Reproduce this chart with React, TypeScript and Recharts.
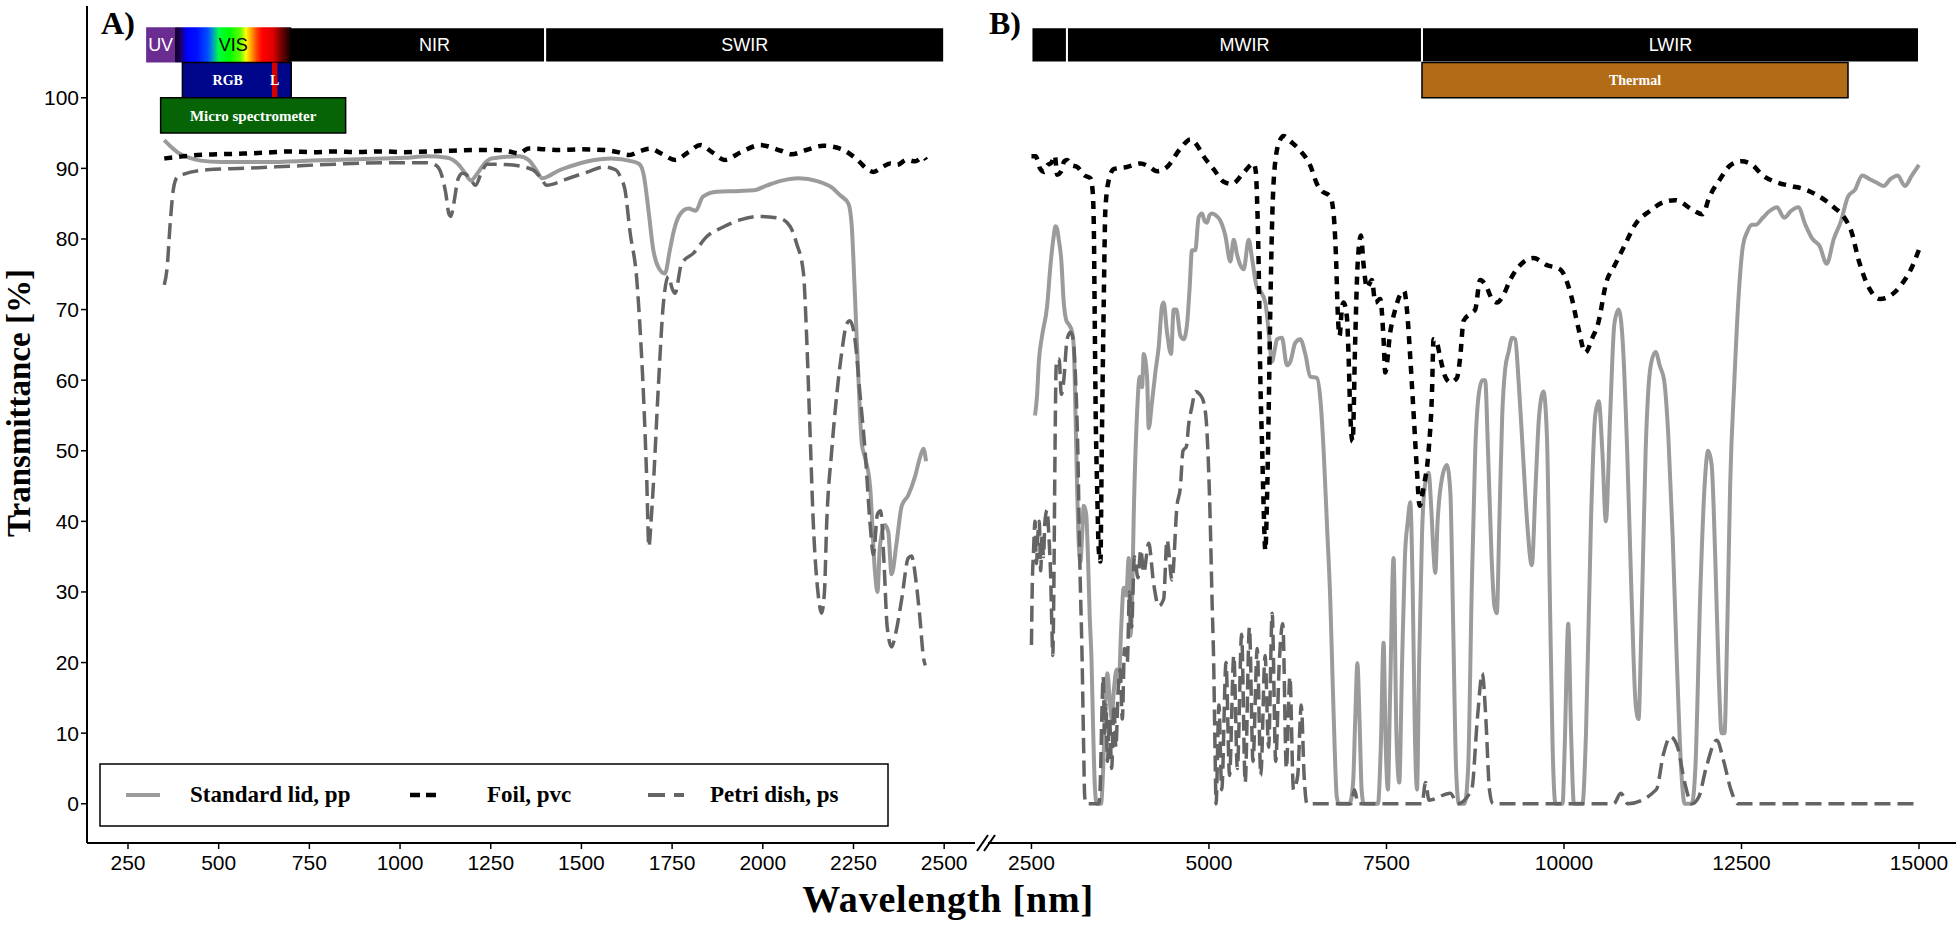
import React from 'react';
import { LineChart, Line, XAxis, YAxis, ReferenceArea } from 'recharts';

const SANS = "'Liberation Sans', Arial, sans-serif";
const SERIF = "'Liberation Serif', 'Times New Roman', serif";

const LID = '#9b9b9b';
const FOIL = '#000000';
const PETRI = '#646464';

// tick labels
const ticksA = [250, 500, 750, 1000, 1250, 1500, 1750, 2000, 2250, 2500];
const ticksB = [2500, 5000, 7500, 10000, 12500, 15000];
const ticksY = [0, 10, 20, 30, 40, 50, 60, 70, 80, 90, 100];

// panel A  (wavelength nm, transmittance %)
const lidA: [number, number][] = [
  [350, 94.0], [370, 93.0], [392, 92.1], [420, 91.5], [450, 91.1], [506, 90.9], [632, 90.9], [759, 91.1],
  [885, 91.3], [1012, 91.5], [1075, 91.7], [1130, 91.5], [1160, 90.6], [1180, 89.3], [1195, 88.3],
  [1212, 89.2], [1235, 90.8], [1252, 91.4], [1328, 91.7], [1354, 91.2], [1375, 89.8], [1392, 88.6],
  [1410, 88.9], [1430, 89.5], [1470, 90.3], [1518, 91.0], [1582, 91.4], [1640, 91.0], [1660, 90.6],
  [1672, 89.0], [1685, 84.0], [1698, 78.5], [1712, 76.0], [1730, 75.1], [1744, 78.5], [1754, 81.0],
  [1772, 83.5], [1795, 84.3], [1815, 84.0], [1835, 86.0], [1873, 86.7], [1937, 86.8], [1975, 86.9],
  [2012, 87.6], [2047, 88.2], [2100, 88.6], [2150, 88.2], [2190, 87.3], [2213, 86.2], [2236, 85.0],
  [2245, 82.0], [2254, 72.0], [2263, 61], [2273, 51], [2282, 49], [2296, 44.8], [2309, 33], [2316, 30],
  [2323, 36.5], [2337, 39.5], [2346, 38.5], [2355, 32.5], [2369, 37], [2383, 42.2], [2401, 43.7],
  [2420, 46.4], [2433, 49], [2443, 50.3], [2450, 48.5],
];

const foilA: [number, number][] = [
  [350, 91.4], [400, 91.7], [442, 91.9], [500, 92.0], [569, 92.1], [620, 92.2], [695, 92.4], [760, 92.3],
  [822, 92.4], [880, 92.3], [949, 92.4], [1010, 92.3], [1075, 92.4], [1140, 92.5], [1202, 92.6],
  [1265, 92.6], [1300, 92.4], [1328, 92.1], [1354, 92.8], [1400, 92.7], [1430, 92.6], [1500, 92.7],
  [1562, 92.6], [1600, 92.3], [1632, 91.9], [1660, 92.4], [1689, 92.8], [1720, 92.1], [1759, 91.2],
  [1795, 92.3], [1828, 93.3], [1860, 92.3], [1895, 91.2], [1940, 92.3], [1993, 93.3], [2050, 92.5],
  [2080, 92.0], [2120, 92.6], [2167, 93.2], [2213, 92.8], [2259, 91.3], [2290, 89.8], [2305, 89.5],
  [2330, 90.2], [2351, 90.7], [2370, 90.5], [2397, 91.2], [2420, 91.0], [2443, 91.6], [2450, 91.2],
];

const petriA: [number, number][] = [
  [350, 73.5], [358, 76], [366, 82], [375, 87], [385, 88.7], [404, 89.2], [468, 89.8], [569, 90],
  [695, 90.3], [822, 90.6], [949, 90.8], [1075, 90.8], [1100, 90.4], [1115, 89], [1126, 86.5],
  [1135, 83.5], [1140, 83.2], [1148, 85], [1160, 88.5], [1172, 89.3], [1190, 88.8], [1208, 87.6],
  [1225, 89.5], [1240, 90.6], [1303, 90.5], [1366, 89.8], [1390, 88.5], [1404, 87.6], [1430, 87.9],
  [1455, 88.4], [1518, 89.5], [1562, 90.2], [1594, 89.8], [1610, 88.5], [1620, 87], [1634, 81],
  [1653, 74], [1662, 67], [1671, 58], [1680, 46], [1686, 36.4], [1692, 40], [1698, 44.9], [1712, 59],
  [1726, 70.9], [1740, 74.7], [1750, 73], [1758, 72.3], [1776, 76.5], [1809, 78], [1845, 80.3],
  [1891, 81.7], [1937, 82.7], [1992, 83.2], [2048, 82.9], [2075, 81.8], [2093, 79.4], [2112, 75.2],
  [2121, 66], [2130, 53], [2139, 40], [2153, 29.5], [2162, 27], [2170, 30], [2176, 39.5], [2190, 50],
  [2204, 58], [2217, 63.7], [2231, 67.9], [2240, 68.4], [2254, 65.8], [2268, 58], [2282, 50],
  [2296, 39.5], [2305, 35.3], [2316, 41], [2325, 41.5], [2334, 34.3], [2343, 25], [2355, 22.2],
  [2367, 24.3], [2383, 29], [2401, 34.8], [2410, 35.1], [2422, 31.7], [2433, 26.4], [2443, 20.7],
  [2448, 19.6],
];

// panel B
const lidB: [number, number][] = [
  [2550, 55], [2580, 58], [2604, 62.6], [2650, 66.3], [2721, 70.5], [2768, 76.3], [2815, 80.5],
  [2838, 81.8], [2860, 81.5], [2885, 79.9], [2918, 77.3], [2955, 71], [2993, 68.4], [3026, 67.9],
  [3073, 66.8], [3096, 64.7], [3120, 55.3], [3143, 44.8], [3166, 36.9], [3190, 34.3], [3213, 38],
  [3237, 42.2], [3270, 41.1], [3298, 34.3], [3321, 26.4], [3345, 20.7], [3370, 10], [3395, 2],
  [3420, 0], [3480, 0], [3510, 5], [3540, 14], [3570, 18.5], [3600, 15], [3630, 12], [3660, 16],
  [3700, 19], [3730, 17], [3760, 24], [3800, 30.6], [3835, 29.5], [3870, 34.8], [3893, 23.8],
  [3915, 28], [3940, 40.6], [3987, 55.3], [4025, 60.5], [4058, 59], [4081, 63.7], [4128, 60.5],
  [4151, 53.2], [4198, 56.9], [4245, 61.1], [4292, 64.7], [4339, 70.5], [4362, 71], [4409, 66.8],
  [4466, 63.7], [4503, 70], [4541, 70], [4597, 66.3], [4644, 65.8], [4691, 67.9], [4728, 73.1],
  [4761, 78.4], [4808, 78.4], [4855, 83.1], [4902, 83.6], [4940, 82.5], [4972, 82.3], [5010, 83.4],
  [5043, 83.6], [5090, 83.4], [5160, 82.6], [5230, 80.5], [5301, 76.8], [5348, 79.9], [5395, 77.8],
  [5442, 76.3], [5489, 75.7], [5559, 79.9], [5606, 77.3], [5676, 73.1], [5723, 72.6], [5794, 71],
  [5841, 66.8], [5887, 62.6], [5930, 64.5], [5958, 65.8], [6028, 66], [6098, 62.1], [6145, 62.6],
  [6216, 65.3], [6286, 65.8], [6357, 63.7], [6427, 60.5], [6521, 60.3], [6568, 57.4], [6615, 50],
  [6662, 39.5], [6708, 29], [6740, 18], [6770, 8], [6800, 1], [6830, 0], [6980, 0], [7030, 3],
  [7060, 12], [7090, 19.9], [7120, 12], [7150, 2], [7180, 0], [7380, 0], [7420, 8], [7459, 22.8],
  [7490, 8], [7520, 2], [7550, 15], [7600, 34.8], [7640, 10], [7680, 3], [7720, 20], [7760, 35],
  [7800, 40], [7835, 42.7], [7870, 30], [7900, 10], [7930, 2], [7960, 20], [8000, 38], [8040, 45],
  [8093, 46.9], [8130, 42], [8160, 36], [8187, 32.7], [8220, 40], [8280, 46], [8351, 48], [8400, 44],
  [8440, 25], [8480, 5], [8520, 0], [8600, 0], [8650, 5], [8700, 30], [8750, 50], [8800, 58],
  [8850, 60], [8890, 60], [8930, 50], [8980, 35], [9020, 28], [9054, 27], [9090, 40], [9130, 55],
  [9172, 61.6], [9220, 64], [9270, 66], [9313, 65.8], [9360, 60], [9420, 50], [9480, 40], [9547, 33.8],
  [9600, 45], [9650, 55], [9711, 58.4], [9760, 52], [9800, 30], [9840, 8], [9880, 0], [9980, 0],
  [10010, 8], [10060, 25.5], [10100, 10], [10140, 0], [10260, 0], [10310, 10], [10380, 40],
  [10440, 55], [10490, 57], [10540, 50], [10590, 40], [10650, 55], [10710, 68], [10770, 70],
  [10830, 65], [10890, 50], [10950, 30], [11010, 14], [11050, 12], [11090, 25], [11150, 50],
  [11220, 62], [11290, 64], [11350, 62], [11410, 60], [11470, 52], [11530, 38], [11590, 20],
  [11650, 5], [11700, 0], [11800, 0], [11850, 5], [11920, 30], [11980, 45], [12030, 50], [12080, 48],
  [12130, 35], [12180, 18], [12220, 10], [12260, 10], [12300, 25], [12340, 45], [12400, 60],
  [12460, 72], [12520, 79], [12580, 81], [12650, 82], [12700, 82], [12800, 83], [12900, 84],
  [13000, 84.5], [13100, 83], [13200, 84], [13300, 84.5], [13400, 82], [13500, 80], [13600, 79],
  [13700, 76.5], [13800, 80], [13900, 82.5], [14000, 86], [14100, 87], [14200, 89], [14300, 88.5],
  [14400, 88], [14500, 87.5], [14600, 88.5], [14700, 89], [14800, 87.5], [14900, 89], [15000, 90.5],
];

const foilB: [number, number][] = [
  [2500, 91.7], [2560, 91.7], [2620, 90], [2680, 89.5], [2721, 90.4], [2780, 90.8], [2830, 91.8],
  [2862, 89.1], [2920, 89.6], [2960, 91], [3002, 91.2], [3060, 90.5], [3143, 90.2], [3250, 89],
  [3331, 88.6], [3360, 87], [3378, 82], [3390, 70], [3405, 55], [3425, 44.8], [3448, 36], [3471, 34.3],
  [3490, 50], [3518, 71], [3541, 84.1], [3588, 88.3], [3659, 89.9], [3846, 90.2], [4034, 90.7],
  [4150, 90.3], [4269, 89.6], [4409, 90.2], [4597, 92.8], [4738, 94.1], [4830, 93.3], [4925, 91.7],
  [5066, 89.9], [5207, 88.1], [5324, 87.8], [5489, 89.4], [5630, 90.7], [5660, 89.5], [5676, 86],
  [5700, 76.3], [5723, 60.5], [5750, 50], [5770, 42], [5794, 35.9], [5815, 42], [5840, 55], [5864, 70],
  [5887, 81.5], [5934, 91], [6000, 94], [6052, 94.6], [6150, 93.8], [6286, 92.5], [6427, 90.4],
  [6521, 87.8], [6591, 86.8], [6708, 86], [6755, 83.6], [6793, 76.3], [6812, 70], [6840, 66.3],
  [6870, 70], [6896, 71], [6943, 68.9], [6967, 63.2], [6990, 55.3], [7023, 51.3], [7060, 65.8],
  [7093, 76.3], [7140, 80.5], [7178, 76.3], [7225, 73.1], [7295, 74.2], [7342, 71], [7412, 71.5],
  [7459, 65.8], [7483, 61.1], [7553, 66.8], [7623, 70], [7694, 72.1], [7750, 72.6], [7788, 70],
  [7835, 63.2], [7882, 55.3], [7928, 47.4], [7966, 42.2], [8022, 44.8], [8093, 50], [8140, 57.9],
  [8163, 65.8], [8210, 65.3], [8257, 63.2], [8327, 60.5], [8398, 59.7], [8491, 60.3], [8538, 63.2],
  [8585, 68.4], [8679, 69.4], [8749, 70], [8820, 74.2], [8914, 73.1], [8984, 71.5], [9054, 71],
  [9149, 72.1], [9242, 74.2], [9383, 76.3], [9571, 77.3], [9759, 76.3], [9946, 75.7], [10100, 72],
  [10200, 67.5], [10300, 63.9], [10400, 66], [10480, 68], [10600, 74], [10700, 76], [10850, 79],
  [11000, 82], [11214, 84], [11400, 85.2], [11566, 85.5], [11830, 84], [11950, 83.5], [12050, 86],
  [12200, 88.5], [12350, 90.5], [12500, 91], [12650, 90.5], [12800, 89], [13000, 88], [13200, 87.5],
  [13400, 87], [13600, 86], [13800, 84.5], [13950, 83], [14050, 81], [14150, 77], [14300, 73],
  [14450, 71.5], [14600, 72], [14750, 73.5], [14900, 76], [15000, 78.5],
];

const petriB: [number, number][] = [
  [2500, 22.5], [2510, 30], [2530, 36], [2550, 40], [2570, 34], [2590, 38], [2610, 40], [2630, 33],
  [2650, 38], [2670, 35], [2690, 40], [2721, 41.6], [2745, 38], [2768, 33], [2790, 24], [2800, 21],
  [2815, 30], [2830, 48], [2848, 62], [2862, 63], [2890, 63], [2920, 58], [2955, 60], [3002, 65.8],
  [3049, 66.8], [3087, 65.8], [3120, 60.5], [3153, 50], [3181, 34.3], [3214, 20.2], [3235, 8],
  [3250, 1], [3270, 0], [3450, 0], [3470, 3], [3490, 12], [3510, 18], [3530, 10], [3550, 14],
  [3570, 6], [3600, 12], [3630, 5], [3660, 14], [3690, 8], [3720, 16], [3750, 19], [3780, 12],
  [3810, 22], [3850, 20], [3880, 30], [3910, 25], [3950, 35], [4000, 32], [4040, 36], [4081, 32.7],
  [4151, 36.9], [4222, 31.1], [4292, 28], [4362, 29], [4409, 37.4], [4480, 31.7], [4550, 42.2],
  [4597, 44.8], [4635, 50], [4682, 50.6], [4714, 53.7], [4761, 56.3], [4808, 58.4], [4878, 57.9],
  [4925, 56.9], [4972, 52.7], [5019, 39.5], [5043, 29], [5066, 20.2], [5085, 8], [5100, 0],
  [5140, 14], [5180, 2], [5240, 20], [5290, 4], [5350, 21], [5400, 5], [5460, 24], [5510, 3],
  [5570, 25], [5620, 6], [5680, 22], [5730, 4], [5790, 21], [5840, 8], [5890, 27], [5940, 6],
  [5990, 20], [6040, 25.5], [6090, 5], [6140, 18], [6190, 2], [6250, 4], [6300, 14], [6340, 4],
  [6380, 0], [7000, 0], [7050, 2], [7100, 0], [8000, 0], [8050, 3], [8100, 0.5], [8400, 1.5],
  [8500, 0], [8700, 2], [8780, 12], [8850, 18.5], [8900, 12], [8950, 2], [9000, 0], [10700, 0],
  [10800, 1.5], [10900, 0], [11300, 2], [11400, 7], [11500, 9.5], [11600, 8], [11700, 3], [11800, 0],
  [11900, 1], [12000, 5], [12150, 9], [12250, 6], [12350, 2], [12450, 0], [15000, 0],
];

// spectrum colours of the VIS strip (nm, colour)
const visStops: [number, string][] = [
  [380, '#12001c'], [400, '#1a0080'], [410, '#0000ff'], [440, '#0010ff'], [470, '#0050ff'],
  [485, '#00a0c0'], [500, '#00ff40'], [530, '#00ff00'], [560, '#60ff00'], [575, '#ffff00'],
  [590, '#ffa000'], [605, '#ff4000'], [620, '#ff0000'], [650, '#e00000'], [670, '#800000'],
  [690, '#300000'], [700, '#000000'],
];

const pts = (arr: [number, number][]) => arr.map(([x, y]) => ({ x, y }));

const Y_DOMAIN: [number, number] = [-5.56, 113];
const bandLabel = (value: string, fill: string, size = 18, family = SANS, weight: any = 'normal') => ({
  value, position: 'center' as const, fill, fontSize: size, fontFamily: family, fontWeight: weight,
});

const axisTick = { fontSize: 21, fill: '#000', fontFamily: SANS };

const series = (lid: any[], foil: any[], petri: any[]) => [
  <Line key="lid" data={lid} dataKey="y" type="monotone" stroke={LID} strokeWidth={4} dot={false} isAnimationActive={false} />,
  <Line key="foil" data={foil} dataKey="y" type="monotone" stroke={FOIL} strokeWidth={4.5} strokeDasharray="8 7" dot={false} isAnimationActive={false} />,
  <Line key="petri" data={petri} dataKey="y" type="monotone" stroke={PETRI} strokeWidth={3.5} strokeDasharray="16 7" dot={false} isAnimationActive={false} />,
];

export default function App() {
  return (
    <div style={{ position: 'absolute', left: 0, top: 0, width: 1960, height: 930, background: '#fff', overflow: 'hidden' }}>
      <svg width={0} height={0} style={{ position: 'absolute' }}>
        <defs>
          <linearGradient id="visGrad" x1="0" y1="0" x2="1" y2="0">
            {visStops.map(([nm, c]) => (
              <stop key={nm} offset={(nm - 380) / 320} stopColor={c} />
            ))}
          </linearGradient>
        </defs>
      </svg>

      {/* Panel A */}
      <div style={{ position: 'absolute', left: 0, top: 0 }}>
        <LineChart width={1000} height={930} margin={{ top: 6, right: 25, bottom: 47, left: 0 }}>
          <XAxis type="number" dataKey="x" domain={[137, 2585]} ticks={ticksA} allowDataOverflow
            tick={axisTick} tickSize={6} tickMargin={6} height={40}
            axisLine={{ stroke: '#000', strokeWidth: 2 }} tickLine={{ stroke: '#000', strokeWidth: 1.5 }} />
          <YAxis type="number" domain={Y_DOMAIN} ticks={ticksY} allowDataOverflow width={87}
            tick={axisTick} tickSize={6} axisLine={{ stroke: '#000', strokeWidth: 2 }} tickLine={{ stroke: '#000', strokeWidth: 1.5 }} />
          <ReferenceArea x1={300} x2={1400} y1={105} y2={110} fill="#000" fillOpacity={1} stroke="#fff" strokeWidth={2} />
          <ReferenceArea x1={1400} x2={2500} y1={105} y2={110} fill="#000" fillOpacity={1} stroke="#fff" strokeWidth={2} label={bandLabel('SWIR', '#fff')} />
          <ReferenceArea x1={300} x2={380} y1={105} y2={110} fill="#6b2c91" fillOpacity={1} label={bandLabel('UV', '#fff')} />
          <ReferenceArea x1={380} x2={700} y1={105} y2={110} fill="url(#visGrad)" fillOpacity={1} />
          <ReferenceArea x1={480} x2={600} y1={105} y2={110} fill="none" fillOpacity={0} label={bandLabel('VIS', '#000')} />
          <ReferenceArea x1={1000} x2={1190} y1={105} y2={110} fill="none" fillOpacity={0} label={bandLabel('NIR', '#fff')} />
          <ReferenceArea x1={400} x2={700} y1={100} y2={105} fill="#00068a" fillOpacity={1} stroke="#000" strokeWidth={1.5} />
          <ReferenceArea x1={400} x2={650} y1={100} y2={105} fill="none" fillOpacity={0} label={bandLabel('RGB', '#fff', 14, SERIF, 'bold')} />
          <ReferenceArea x1={647} x2={662} y1={100} y2={105} fill="#d40000" fillOpacity={1} label={bandLabel('L', '#fff', 14, SERIF, 'bold')} />
          <ReferenceArea x1={340} x2={850} y1={95} y2={100} fill="#066406" fillOpacity={1} stroke="#000" strokeWidth={1.5} label={bandLabel('Micro spectrometer', '#fff', 15, SERIF, 'bold')} />
          {series(pts(lidA), pts(foilA), pts(petriA))}
        </LineChart>
      </div>

      {/* Panel B */}
      <div style={{ position: 'absolute', left: 980, top: 0 }}>
        <LineChart width={980} height={930} margin={{ top: 6, right: 4, bottom: 47, left: 8 }}>
          <XAxis type="number" dataKey="x" domain={[1888, 15521]} ticks={ticksB} allowDataOverflow
            tick={axisTick} tickSize={6} tickMargin={6} height={40}
            axisLine={{ stroke: '#000', strokeWidth: 2 }} tickLine={{ stroke: '#000', strokeWidth: 1.5 }} />
          <YAxis type="number" domain={Y_DOMAIN} allowDataOverflow hide />
          <ReferenceArea x1={2500} x2={3000} y1={105} y2={110} fill="#000" fillOpacity={1} stroke="#fff" strokeWidth={2} />
          <ReferenceArea x1={3000} x2={8000} y1={105} y2={110} fill="#000" fillOpacity={1} stroke="#fff" strokeWidth={2} label={bandLabel('MWIR', '#fff')} />
          <ReferenceArea x1={8000} x2={15000} y1={105} y2={110} fill="#000" fillOpacity={1} stroke="#fff" strokeWidth={2} label={bandLabel('LWIR', '#fff')} />
          <ReferenceArea x1={8000} x2={14000} y1={100} y2={105} fill="#b26b17" fillOpacity={1} stroke="#000" strokeWidth={1.5} label={bandLabel('Thermal', '#fff', 14, SERIF, 'bold')} />
          {series(pts(lidB), pts(foilB), pts(petriB))}
        </LineChart>
      </div>

      {/* titles, axis break, legend */}
      <svg width={1960} height={930} style={{ position: 'absolute', left: 0, top: 0, pointerEvents: 'none' }}>
        <text x={118} y={34} textAnchor="middle" fontFamily={SERIF} fontWeight="bold" fontSize={32}>A)</text>
        <text x={1005} y={34} textAnchor="middle" fontFamily={SERIF} fontWeight="bold" fontSize={32}>B)</text>
        <text transform="translate(30,403) rotate(-90)" textAnchor="middle" fontFamily={SERIF} fontWeight="bold" fontSize={33}>Transmittance [%]</text>
        <text x={948} y={912} textAnchor="middle" fontFamily={SERIF} fontWeight="bold" fontSize={38} letterSpacing={0.8}>Wavelength [nm]</text>

        <line x1={977} y1={851} x2={988} y2={835} stroke="#000" strokeWidth={2} />
        <line x1={984} y1={851} x2={995} y2={835} stroke="#000" strokeWidth={2} />

        <rect x={100} y={764} width={788} height={62} fill="#fff" stroke="#000" strokeWidth={1.5} />
        <line x1={126} y1={795} x2={160} y2={795} stroke={LID} strokeWidth={4} />
        <text x={190} y={802} fontFamily={SERIF} fontWeight="bold" fontSize={23}>Standard lid, pp</text>
        <line x1={410} y1={795} x2={438} y2={795} stroke={FOIL} strokeWidth={4.5} strokeDasharray="10 6" />
        <text x={487} y={802} fontFamily={SERIF} fontWeight="bold" fontSize={23}>Foil, pvc</text>
        <line x1={648} y1={795} x2={684} y2={795} stroke={PETRI} strokeWidth={4} strokeDasharray="17 9" />
        <text x={710} y={802} fontFamily={SERIF} fontWeight="bold" fontSize={23}>Petri dish, ps</text>
      </svg>
    </div>
  );
}
